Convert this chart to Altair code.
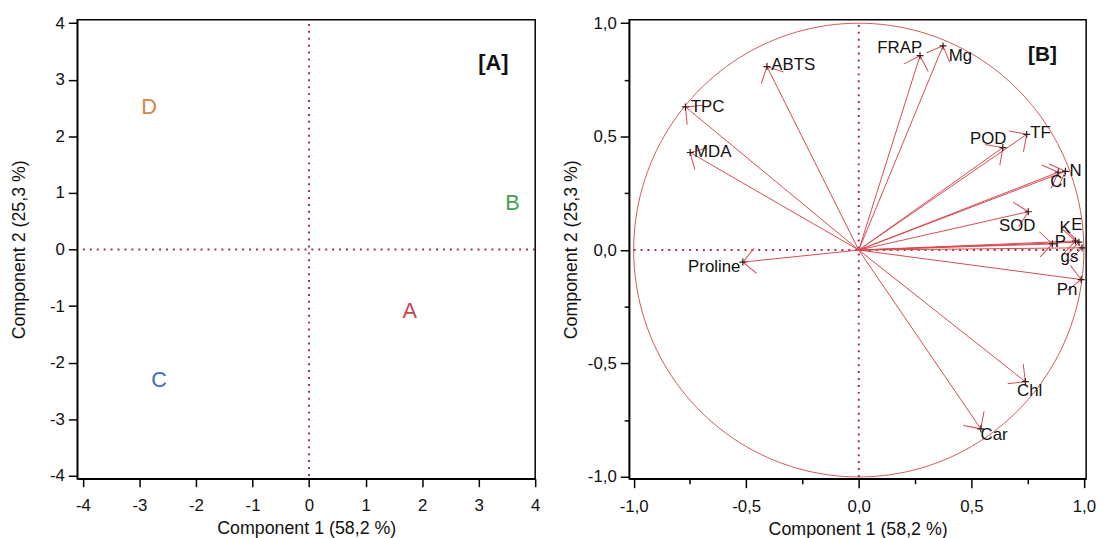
import altair as alt
import pandas as pd

# ---------------- Panel A: group scores ----------------
groups = ["A", "B", "C", "D"]
score_pc1 = [1.78, 3.60, -2.65, -2.83]
score_pc2 = [-1.09, 0.82, -2.31, 2.51]
group_colors = ["#c9444e", "#43a04f", "#3d6cc0", "#d5863f"]

# ---------------- Panel B: variable loadings ----------------
variables = ["ABTS", "TPC", "MDA", "Proline", "FRAP", "Mg", "POD", "TF", "N",
             "Ci", "SOD", "P", "K", "E", "gs", "Pn", "Chl", "Car"]
load_pc1 = [-0.408, -0.770, -0.749, -0.515, 0.272, 0.374, 0.640, 0.746, 0.918,
            0.886, 0.753, 0.860, 0.962, 0.978, 0.992, 0.988, 0.740, 0.542]
load_pc2 = [0.809, 0.631, 0.430, -0.053, 0.857, 0.900, 0.452, 0.510, 0.347,
            0.343, 0.169, 0.027, 0.040, 0.035, 0.010, -0.130, -0.580, -0.788]
# where each variable name sits (in component units)
label_pc1 = [-0.291, -0.672, -0.649, -0.642, 0.182, 0.452, 0.575, 0.807, 0.963,
             0.886, 0.704, 0.896, 0.917, 0.969, 0.936, 0.925, 0.759, 0.601]
label_pc2 = [0.817, 0.632, 0.434, -0.076, 0.890, 0.857, 0.488, 0.514, 0.347,
             0.299, 0.105, 0.034, 0.098, 0.112, -0.030, -0.177, -0.622, -0.817]

ticks_A = [-4, -3, -2, -1, 0, 1, 2, 3, 4]
ticks_B = [-1.0, -0.75, -0.5, -0.25, 0.0, 0.25, 0.5, 0.75, 1.0]
title_x = "Component 1  (58,2 %)"
title_y = "Component 2  (25,3 %)"

FONT = "Liberation Sans"
VEC = "#d64a50"
DOT = "#a3324f"

scores = pd.DataFrame({"group": groups, "pc1": score_pc1, "pc2": score_pc2})
loadings = pd.DataFrame({"variable": variables, "pc1": load_pc1, "pc2": load_pc2,
                         "lx": label_pc1, "ly": label_pc2})

# ---------------- Panel A ----------------
xA = alt.Scale(domain=[-4.1, 4.0], nice=False, zero=False)
yA = alt.Scale(domain=[-4.05, 4.06], nice=False, zero=False)
int_label = "(datum.value < 0 ? '-' : '') + abs(datum.value)"
axAx = alt.Axis(values=ticks_A, title=title_x, labelExpr=int_label, tickSize=8,
                labelPadding=11, titlePadding=6, labelFlush=False, grid=False,
                labelOverlap=False)
axAy = alt.Axis(values=ticks_A, title=title_y, labelExpr=int_label, tickSize=9,
                labelPadding=4, titlePadding=21, grid=False, labelOverlap=False)


def XA(f):
    return alt.X(f, scale=xA, axis=axAx, title=title_x)


def YA(f):
    return alt.Y(f, scale=yA, axis=axAy, title=title_y)


refA = pd.DataFrame({"lo": [ticks_A[0]], "hi": [ticks_A[-1]], "z": [0]})
vA = alt.Chart(refA).mark_rule(color=DOT, strokeWidth=2, strokeDash=[2, 5]).encode(
    x=XA("z:Q"), y=YA("lo:Q"), y2="hi:Q")
hA = alt.Chart(refA).mark_rule(color=DOT, strokeWidth=2, strokeDash=[2, 5]).encode(
    y=YA("z:Q"), x=XA("lo:Q"), x2="hi:Q")
txtA = alt.Chart(scores).mark_text(font=FONT, fontSize=22, baseline="middle").encode(
    x=XA("pc1:Q"), y=YA("pc2:Q"), text="group:N",
    color=alt.Color("group:N", scale=alt.Scale(domain=groups, range=group_colors), legend=None))
tagA = alt.Chart(pd.DataFrame({"t": ["[A]"], "x": [3.26], "y": [3.3]})).mark_text(
    font=FONT, fontSize=22, fontWeight="bold", color="#111").encode(
    x=XA("x:Q"), y=YA("y:Q"), text="t:N")
panelA = alt.layer(vA, hA, txtA, tagA).properties(width=463, height=464)

# ---------------- Panel B ----------------
xB = alt.Scale(domain=[-1.02, 1.01], nice=False, zero=False)
yB = alt.Scale(domain=[-1.008, 1.015], nice=False, zero=False)
minor = "abs(datum.value*4) % 2 == 1"
dec_label = minor + " ? '' : (datum.value < 0 ? '-' : '') + replace(format(abs(datum.value), '.1f'), '.', ',')"
tick_sz = {"condition": {"test": minor, "value": 5}, "value": 9}
axBx = alt.Axis(values=ticks_B, title=title_x, labelExpr=dec_label, tickSize=tick_sz,
                labelPadding=11, titlePadding=6, labelFlush=False, grid=False,
                labelOverlap=False)
axBy = alt.Axis(values=ticks_B, title=title_y, labelExpr=dec_label, tickSize=tick_sz,
                labelPadding=4, titlePadding=7, grid=False, labelOverlap=False)


def XB(f):
    return alt.X(f, scale=xB, axis=axBx, title=title_x)


def YB(f):
    return alt.Y(f, scale=yB, axis=axBy, title=title_y)


circle = alt.Chart(alt.sequence(0, 361, 2, as_="t")).transform_calculate(
    cx="cos(datum.t * PI / 180)", cy="sin(datum.t * PI / 180)").mark_line(
    color="#cf5a5a", strokeWidth=1).encode(x=XB("cx:Q"), y=YB("cy:Q"), order="t:Q")
refB = pd.DataFrame({"lo": [ticks_B[0]], "hi": [ticks_B[-1]], "z": [0]})
vB = alt.Chart(refB).mark_rule(color=DOT, strokeWidth=2, strokeDash=[2, 5]).encode(
    x=XB("z:Q"), y=YB("lo:Q"), y2="hi:Q")
hB = alt.Chart(refB).mark_rule(color=DOT, strokeWidth=2, strokeDash=[2, 5]).encode(
    y=YB("z:Q"), x=XB("lo:Q"), x2="hi:Q")

baseB = alt.Chart(loadings)
vec = baseB.transform_calculate(o="0").mark_rule(color=VEC, strokeWidth=1).encode(
    x=XB("o:Q"), y=YB("o:Q"), x2="pc1:Q", y2="pc2:Q")
heads = baseB.transform_calculate(
    ang="(360 - atan2(datum.pc2, datum.pc1) * 180 / PI) % 360").mark_point(
    shape="M -1 -1 L 0 0 L -1 1", filled=False, size=650, color=VEC,
    strokeWidth=1, opacity=1).encode(
    x=XB("pc1:Q"), y=YB("pc2:Q"), angle=alt.Angle("ang:Q", scale=None))
cross = baseB.mark_point(shape="M -1 0 L 1 0 M 0 -1 L 0 1", filled=False, size=50,
                         color="#3a1a1a", strokeWidth=1.2, opacity=1).encode(
    x=XB("pc1:Q"), y=YB("pc2:Q"))
names = baseB.mark_text(font=FONT, fontSize=17, color="#111", baseline="middle").encode(
    x=XB("lx:Q"), y=YB("ly:Q"), text="variable:N")
tagB = alt.Chart(pd.DataFrame({"t": ["[B]"], "x": [0.816], "y": [0.858]})).mark_text(
    font=FONT, fontSize=21, fontWeight="bold", color="#111").encode(
    x=XB("x:Q"), y=YB("y:Q"), text="t:N")
panelB = alt.layer(circle, vB, hB, vec, heads, cross, names, tagB).properties(
    width=462, height=464)

chart = alt.hconcat(panelA, panelB, spacing=20).properties(
    padding={"left": 2, "top": 2, "right": 2, "bottom": 0}
).configure_axis(
    labelFont=FONT, labelFontSize=17, labelColor="#111",
    titleFont=FONT, titleFontSize=18, titleFontWeight="normal", titleColor="#111",
    domainColor="black", domainWidth=1.5, tickColor="black", tickWidth=1.5,
).configure_view(stroke="black", strokeWidth=1.5)

chart.save("out.html", embed_options={"renderer": "svg", "actions": False})
